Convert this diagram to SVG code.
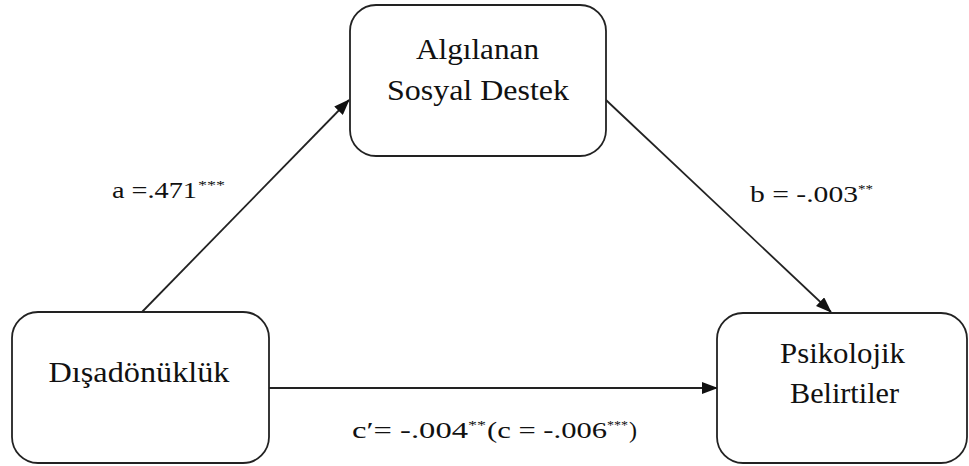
<svg xmlns="http://www.w3.org/2000/svg" width="969" height="466" viewBox="0 0 969 466">
<style>
.box{fill:#fff;stroke:#222;stroke-width:1.8}
.t{font-family:'Liberation Serif','DejaVu Serif',serif;font-size:30px;fill:#111;text-anchor:middle}
.l{font-family:'Liberation Serif','DejaVu Serif',serif;font-size:24px;fill:#111}
.s{font-size:13px}
.c{stroke:#222;stroke-width:1.8;fill:none;marker-end:url(#ah)}
</style>
<defs>
<marker id="ah" markerWidth="16" markerHeight="12" refX="15" refY="6" orient="auto" markerUnits="userSpaceOnUse">
<path d="M0,0 L16,6 L0,12 Z" fill="#111"/>
</marker>
</defs>
<g id="connectors">
<line class="c" x1="142" y1="312" x2="349" y2="100"/>
<line class="c" x1="606" y1="100" x2="831" y2="312"/>
<line class="c" x1="269" y1="388" x2="717" y2="388"/>
</g>
<g id="node-disadonukluk">
<rect class="box" x="12" y="312" width="257" height="151" rx="26"/>
<text class="t" x="139" y="382" textLength="181" lengthAdjust="spacingAndGlyphs">Dışadönüklük</text>
</g>
<g id="node-algilanan">
<rect class="box" x="350" y="5" width="256" height="151" rx="26"/>
<text class="t" x="477.5" y="59" textLength="123" lengthAdjust="spacingAndGlyphs">Algılanan</text>
<text class="t" x="478" y="100" textLength="182" lengthAdjust="spacingAndGlyphs">Sosyal Destek</text>
</g>
<g id="node-psikolojik">
<rect class="box" x="717" y="313" width="250" height="150" rx="26"/>
<text class="t" x="842.5" y="363" textLength="125" lengthAdjust="spacingAndGlyphs">Psikolojik</text>
<text class="t" x="844.5" y="403" textLength="109" lengthAdjust="spacingAndGlyphs">Belirtiler</text>
</g>
<g id="labels">
<text class="l" y="198"><tspan x="112" textLength="85" lengthAdjust="spacingAndGlyphs">a =.471</tspan><tspan class="s" x="198" dy="-9" textLength="27" lengthAdjust="spacingAndGlyphs">***</tspan></text>
<text class="l" y="202"><tspan x="750" textLength="108" lengthAdjust="spacingAndGlyphs">b = -.003</tspan><tspan class="s" x="858" dy="-9" textLength="15" lengthAdjust="spacingAndGlyphs">**</tspan></text>
<text class="l" y="438"><tspan x="352" textLength="116" lengthAdjust="spacingAndGlyphs">c′= -.004</tspan><tspan class="s" x="468" dy="-9" textLength="18" lengthAdjust="spacingAndGlyphs">**</tspan><tspan x="487" dy="9" textLength="120" lengthAdjust="spacingAndGlyphs">(c = -.006</tspan><tspan class="s" x="607" dy="-9" textLength="21" lengthAdjust="spacingAndGlyphs">***</tspan><tspan x="629" dy="9">)</tspan></text>
</g>
</svg>
